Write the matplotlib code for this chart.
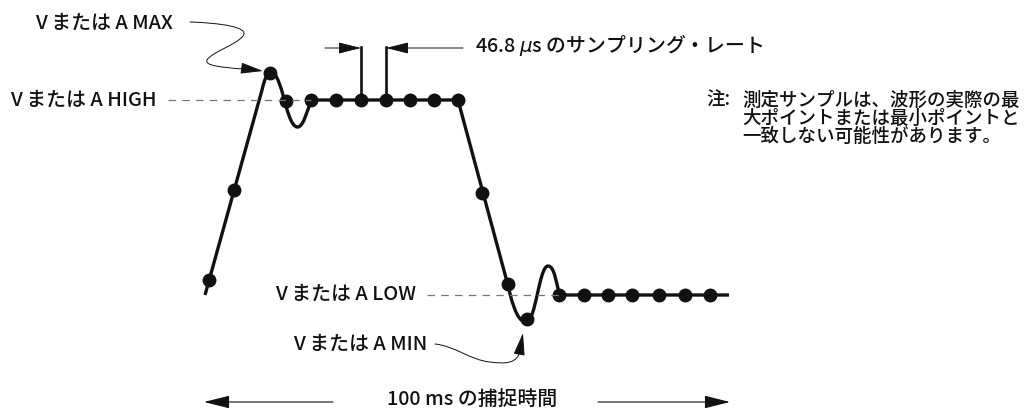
import matplotlib.pyplot as plt
from matplotlib.path import Path
from matplotlib.patches import PathPatch, FancyArrowPatch

plt.rcParams['font.family'] = ['Noto Sans CJK JP', 'DejaVu Sans']

# sample dots (pixel space of the drawing, y grows downward)
rise_x = [209, 234, 270, 286]
rise_y = [280, 190, 73, 101]
high_x = [311, 336, 361, 386, 410, 434, 458]
high_level = 100
fall_x = [482, 508, 527]
fall_y = [193, 284, 319]
low_x = [559, 584, 608, 632, 659, 685, 710]
low_level = 295

# continuous waveform outline (vertices + path codes)
wave_pts = [(205, 295), (262, 90),
            (267, 68), (274, 62), (283, 95),
            (287, 110), (291, 126), (297, 127),
            (303, 128), (307, 112), (311, 100),
            (458, 100), (506, 278),
            (511, 298), (516, 322), (526, 322),
            (536, 322), (539, 266), (548, 266),
            (555, 266), (556, 285), (560, 295),
            (729, 295)]
C4, L = Path.CURVE4, Path.LINETO
wave_codes = [Path.MOVETO, L, C4, C4, C4, C4, C4, C4, C4, C4, C4, L, L,
              C4, C4, C4, C4, C4, C4, C4, C4, C4, L]

labels = ['V または A MAX', 'V または A HIGH', 'V または A LOW', 'V または A MIN']
rate_label = '46.8 $\\mu$s のサンプリング・レート'
span_label = '100 ms の捕捉時間'
note_head = '注:'
note_lines = ['測定サンプルは、波形の実際の最',
              '大ポイントまたは最小ポイントと',
              '一致しない可能性があります。']

fig = plt.figure(figsize=(10.26, 4.16), dpi=100)
ax = fig.add_axes([0, 0, 1, 1])
ax.set_xlim(0, 1026)
ax.set_ylim(416, 0)
ax.axis('off')

ink = '#111111'

# waveform
ax.add_patch(PathPatch(Path(wave_pts, wave_codes), fill=False, lw=2.4,
                       edgecolor=ink, capstyle='butt', joinstyle='round'))
for xs, ys in [(rise_x, rise_y), (high_x, [high_level] * len(high_x)),
               (fall_x, fall_y), (low_x, [low_level] * len(low_x))]:
    ax.plot(xs, ys, 'o', color=ink, ms=9)

# reference dashed levels
ax.plot([168, 311], [high_level, high_level], ls=(0, (6, 5)), color='#777777', lw=0.9)
ax.plot([427, 559], [low_level, low_level], ls=(0, (6, 5)), color='#777777', lw=0.9)

# sample interval markers
for xv in high_x[2:4]:
    ax.plot([xv, xv], [high_level, 47], color=ink, lw=1.9)
arr = dict(arrowstyle='-|>,head_length=1.0,head_width=0.25', color=ink, lw=0.7,
           mutation_scale=14, shrinkA=0, shrinkB=0)
ax.annotate('', xy=(high_x[2], 48), xytext=(325, 48), arrowprops=arr)
ax.annotate('', xy=(high_x[3], 48), xytext=(463, 48), arrowprops=arr)

# curved leaders
max_path = Path([(190, 22), (220, 23), (250, 27), (243, 36),
                 (236, 45), (212, 52), (207, 60),
                 (203, 68), (240, 68), (263, 71)],
                [Path.MOVETO, C4, C4, C4, C4, C4, C4, C4, C4, C4])
ax.add_patch(FancyArrowPatch(path=max_path, arrowstyle='-|>,head_length=1.0,head_width=0.25',
                             mutation_scale=14, color=ink, lw=0.7))
min_path = Path([(435, 344), (455, 346), (470, 360), (490, 362),
                 (505, 364), (518, 364), (520, 350), (523, 333)],
                [Path.MOVETO, C4, C4, C4, C4, C4, C4, L])
ax.add_patch(FancyArrowPatch(path=min_path, arrowstyle='-|>,head_length=1.0,head_width=0.25',
                             mutation_scale=14, color=ink, lw=0.7))

# span arrows
span = dict(arrowstyle='-|>,head_length=1.0,head_width=0.25', color=ink, lw=0.8,
            mutation_scale=16, shrinkA=0, shrinkB=0)
ax.annotate('', xy=(204, 402), xytext=(333, 402), arrowprops=span)
ax.annotate('', xy=(730, 402), xytext=(598, 402), arrowprops=span)

fs = 14.3
tkw = dict(fontsize=fs, color=ink, va='center', fontweight='medium')
ax.text(35, 23, labels[0], **tkw)
ax.text(10, 100, labels[1], **tkw)
ax.text(275, 294, labels[2], **tkw)
ax.text(293, 344, labels[3], **tkw)
ax.text(475, 45, rate_label, **tkw)
ax.text(472, 399, span_label, ha='center', **tkw)

nkw = dict(fontsize=13.3, color=ink, va='center', fontweight='medium')
ax.text(706, 100, note_head, **nkw)
for i, line in enumerate(note_lines):
    ax.text(742, 100 + i * 18, line, **nkw)

fig.savefig('out.png', dpi=100)
